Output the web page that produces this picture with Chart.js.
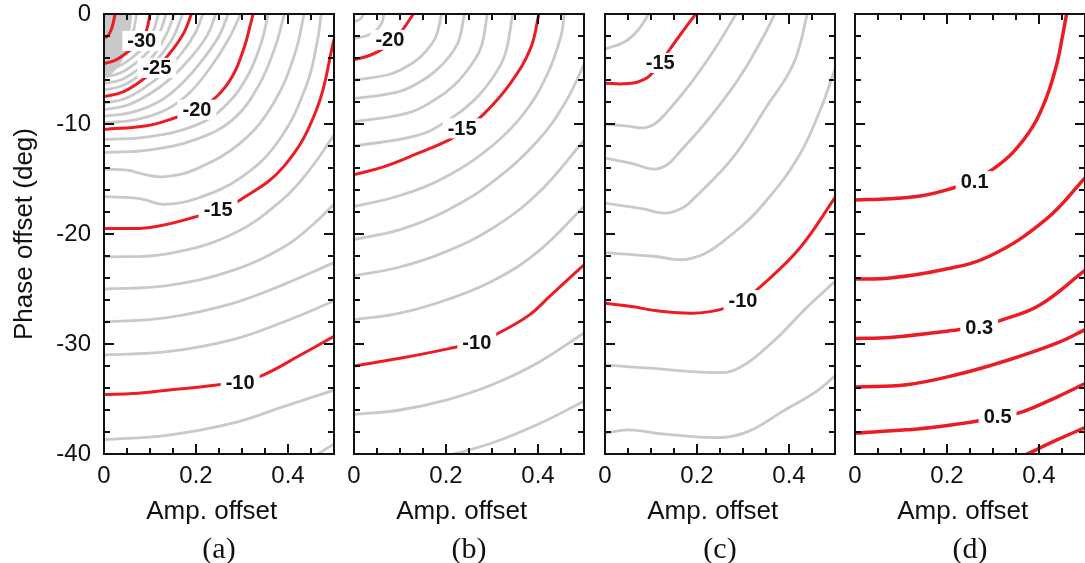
<!DOCTYPE html>
<html>
<head>
<meta charset="utf-8">
<script src="https://cdn.jsdelivr.net/npm/chart.js@4.4.1/dist/chart.umd.min.js"></script>
<style>
  html, body { margin: 0; padding: 0; background: #fff; }
  #fig { position: relative; width: 1085px; height: 563px; overflow: hidden; background: #fff; }
  #fig canvas { position: absolute; top: 0; }
  .tag { position: absolute; top: 531px; width: 120px; text-align: center;
         font-family: "Liberation Serif", "Times New Roman", serif; font-size: 30px; line-height: 34px; color: #111; }
</style>
</head>
<body>
<div id="fig">
  <canvas id="pa" width="344" height="563" style="left:0px"></canvas>
  <canvas id="pb" width="250" height="563" style="left:344px"></canvas>
  <canvas id="pc" width="250" height="563" style="left:595px"></canvas>
  <canvas id="pd" width="250" height="563" style="left:845px"></canvas>
  <div class="tag" style="left:159px">(a)</div>
  <div class="tag" style="left:409px">(b)</div>
  <div class="tag" style="left:660px">(c)</div>
  <div class="tag" style="left:910px">(d)</div>
</div>
<script>
// ---- axes ----
const xTickLabels = [0, 0.2, 0.4];
const yTickLabels = [0, -10, -20, -30, -40];
const xMinorTicks = [0, 0.05, 0.1, 0.15, 0.2, 0.25, 0.3, 0.35, 0.4, 0.45, 0.5];
const yMinorTicks = [0, -2, -4, -6, -8, -10, -12, -14, -16, -18, -20, -22, -24, -26, -28, -30, -32, -34, -36, -38, -40];

// ---- panel (a): contour levels, their [amp, phase] paths, labels ----
const levelsA = [-35, -34, -33, -32, -31, -30, -29, -28, -27, -26, -25, -24, -23, -22, -21, -20,
                 -19, -18, -17, -16, -15, -14, -13, -12, -11, -10, -9, -8];
const redA = [-35, -30, -25, -20, -15, -10];
const contoursA = [
  [[0,-2.2],[0.008,-2.0],[0.015,-1.5],[0.02,-0.8],[0.024,0]],
  [[0,-2.7],[0.012,-2.45],[0.022,-1.9],[0.029,-1.0],[0.033,0]],
  [[0,-3.2],[0.015,-2.9],[0.027,-2.3],[0.036,-1.3],[0.041,0]],
  [[0,-3.65],[0.02,-3.3],[0.034,-2.6],[0.045,-1.5],[0.05,0]],
  [[0,-4.1],[0.025,-3.8],[0.045,-3.1],[0.062,-1.8],[0.071,0]],
  [[0,-4.5],[0.025,-4.2],[0.05,-3.5],[0.082,-2.4],[0.093,-1.4],[0.1,0]],
  [[0,-5.1],[0.03,-4.8],[0.06,-4.0],[0.092,-2.75],[0.108,-1.5],[0.118,0]],
  [[0,-5.7],[0.033,-5.4],[0.066,-4.55],[0.101,-3.2],[0.122,-1.6],[0.135,0]],
  [[0,-6.3],[0.036,-6.0],[0.072,-5.1],[0.108,-3.75],[0.136,-1.8],[0.153,0]],
  [[0,-6.9],[0.038,-6.55],[0.076,-5.6],[0.111,-4.35],[0.148,-2.3],[0.171,0]],
  [[0,-7.5],[0.04,-7.1],[0.08,-6.1],[0.115,-4.9],[0.15,-3.2],[0.175,-1.6],[0.19,0]],
  [[0,-8.1],[0.045,-7.7],[0.09,-6.65],[0.13,-5.35],[0.17,-3.5],[0.198,-1.75],[0.215,0]],
  [[0,-8.7],[0.05,-8.3],[0.1,-7.25],[0.145,-5.85],[0.19,-3.9],[0.225,-1.9],[0.243,0]],
  [[0,-9.3],[0.06,-8.95],[0.12,-7.95],[0.165,-6.5],[0.21,-4.4],[0.25,-2.0],[0.27,0]],
  [[0,-9.9],[0.07,-9.6],[0.135,-8.7],[0.185,-7.2],[0.23,-4.95],[0.272,-2.2],[0.297,0]],
  [[0,-10.5],[0.093,-10.15],[0.15,-9.5],[0.2,-8.7],[0.245,-7.5],[0.28,-5.6],[0.305,-3.0],[0.318,-1.0],[0.324,0]],
  [[0,-11.4],[0.1,-11.15],[0.2,-10.1],[0.26,-8.5],[0.31,-5.8],[0.342,-2.6],[0.357,0]],
  [[0,-12.6],[0.1,-12.35],[0.2,-11.4],[0.28,-9.6],[0.335,-6.6],[0.372,-3.0],[0.392,0]],
  [[0,-14.1],[0.05,-14.2],[0.09,-14.6],[0.13,-14.8],[0.2,-14.1],[0.3,-11.6],[0.37,-8.0],[0.415,-3.6],[0.435,0]],
  [[0,-16.6],[0.08,-16.8],[0.13,-17.3],[0.2,-16.8],[0.3,-14.8],[0.38,-11.5],[0.44,-6.5],[0.465,-2.2],[0.472,0]],
  [[0,-19.5],[0.1,-19.4],[0.194,-18.5],[0.248,-17.7],[0.296,-16.9],[0.39,-13.9],[0.462,-8.7],[0.5,-2.3]],
  [[0,-22.1],[0.137,-21.8],[0.28,-20.0],[0.39,-16.8],[0.45,-14.0],[0.5,-11.0]],
  [[0,-25.0],[0.137,-24.7],[0.28,-23.3],[0.39,-21.2],[0.45,-19.3],[0.5,-17.3]],
  [[0,-28.0],[0.137,-27.6],[0.28,-26.3],[0.39,-24.6],[0.5,-22.6]],
  [[0,-31.0],[0.137,-30.7],[0.28,-29.6],[0.39,-28.0],[0.5,-26.1]],
  [[0,-34.6],[0.064,-34.5],[0.137,-34.2],[0.231,-33.8],[0.297,-33.4],[0.347,-32.8],[0.427,-31.0],[0.5,-29.3]],
  [[0,-38.7],[0.137,-38.3],[0.28,-37.2],[0.39,-35.7],[0.5,-34.2]],
  [[0.455,-40.3],[0.48,-39.6],[0.5,-39.1]]
];
// densely packed region in the top-left corner
const shadeA = [[0,-5.8],[0.02,-5.3],[0.04,-4.2],[0.05,-2.8],[0.058,-1.3],[0.062,0]];
const labelsA = [['-30',0.082,-2.45],['-25',0.115,-4.9],['-20',0.202,-8.7],['-15',0.248,-17.8],['-10',0.296,-33.5]];

// ---- panel (b) ----
const levelsB = [-22, -21, -20, -19, -18, -17, -16, -15, -14, -13, -12, -11, -10, -9, -8];
const redB = [-20, -15, -10];
const contoursB = [
  [[0,-0.7],[0.01,-0.55],[0.017,-0.3],[0.021,0]],
  [[0,-2.2],[0.026,-2.0],[0.039,-1.75],[0.049,-1.45],[0.057,-1.05],[0.062,-0.65],[0.065,0]],
  [[0,-4.15],[0.035,-3.75],[0.071,-2.95],[0.09,-2.2],[0.108,-1.3],[0.129,0]],
  [[0,-6.0],[0.076,-5.5],[0.114,-4.8],[0.143,-3.95],[0.165,-2.95],[0.18,-1.85],[0.19,0]],
  [[0,-7.7],[0.096,-7.08],[0.144,-6.16],[0.18,-5.08],[0.209,-3.77],[0.228,-2.39],[0.24,0]],
  [[0,-9.8],[0.116,-9.02],[0.174,-7.84],[0.218,-6.47],[0.252,-4.8],[0.276,-3.04],[0.29,0]],
  [[0,-12.0],[0.138,-11.04],[0.207,-9.6],[0.259,-7.92],[0.3,-5.88],[0.328,-3.72],[0.345,0]],
  [[0,-14.6],[0.064,-13.9],[0.137,-12.7],[0.209,-11.4],[0.24,-10.5],[0.282,-9.1],[0.34,-6.3],[0.384,-3.1],[0.402,0]],
  [[0,-17.5],[0.1,-16.5],[0.2,-14.8],[0.3,-12.0],[0.37,-9.0],[0.42,-5.5],[0.45,-2.0],[0.457,0]],
  [[0,-20.5],[0.1,-19.6],[0.2,-17.9],[0.3,-15.3],[0.4,-11.5],[0.46,-8.0],[0.5,-4.6]],
  [[0,-23.8],[0.1,-23.0],[0.2,-21.6],[0.3,-19.5],[0.4,-16.3],[0.5,-11.5]],
  [[0,-27.8],[0.1,-27.2],[0.2,-26.0],[0.3,-24.3],[0.4,-21.6],[0.5,-17.5]],
  [[0,-32.0],[0.1,-31.3],[0.209,-30.4],[0.267,-29.8],[0.31,-29.1],[0.38,-27.4],[0.427,-25.6],[0.5,-22.8]],
  [[0,-36.4],[0.1,-36.0],[0.2,-35.1],[0.3,-33.7],[0.4,-31.7],[0.5,-29.0]],
  [[0.2,-40.2],[0.3,-39.0],[0.4,-37.3],[0.5,-35.2]]
];
const labelsB = [['-20',0.078,-2.35],['-15',0.235,-10.4],['-10',0.267,-29.9]];

// ---- panel (c) ----
const levelsC = [-16, -15, -14, -13, -12, -11, -10, -9, -8];
const redC = [-15, -10];
const contoursC = [
  [[0,-3.2],[0.044,-2.5],[0.073,-1.4],[0.095,0]],
  [[0,-6.3],[0.04,-6.35],[0.07,-6.2],[0.095,-5.7],[0.117,-4.6],[0.153,-2.5],[0.197,0]],
  [[0,-10.0],[0.05,-10.2],[0.085,-10.35],[0.108,-10.0],[0.131,-9.1],[0.19,-6.1],[0.24,-3.1],[0.285,0]],
  [[0,-13.1],[0.06,-13.6],[0.105,-14.1],[0.135,-13.7],[0.161,-12.6],[0.226,-9.5],[0.292,-5.8],[0.345,-2.0],[0.369,0]],
  [[0,-17.2],[0.08,-17.7],[0.131,-18.1],[0.17,-17.6],[0.19,-16.9],[0.277,-13.1],[0.35,-8.5],[0.41,-4.5],[0.44,0]],
  [[0,-21.7],[0.1,-22.0],[0.19,-22.2],[0.277,-20.0],[0.35,-17.0],[0.423,-12.8],[0.47,-8.5],[0.5,-5.0]],
  [[0,-26.3],[0.058,-26.6],[0.117,-27.0],[0.19,-27.2],[0.248,-26.9],[0.3,-26.0],[0.343,-24.6],[0.423,-21.3],[0.5,-16.7]],
  [[0,-31.9],[0.095,-32.2],[0.24,-32.6],[0.29,-32.2],[0.365,-29.8],[0.438,-26.7],[0.5,-24.3]],
  [[0,-38.1],[0.051,-37.8],[0.131,-38.2],[0.255,-38.5],[0.314,-37.9],[0.387,-36.1],[0.46,-34.3],[0.5,-32.9]]
];
const labelsC = [['-15',0.12,-4.45],['-10',0.3,-26.0]];

// ---- panel (d) ----
const levelsD = [0.1, 0.2, 0.3, 0.4, 0.5, 0.6];
const redD = [0.1, 0.2, 0.3, 0.4, 0.5, 0.6];
const contoursD = [
  [[0,-16.9],[0.076,-16.8],[0.148,-16.5],[0.207,-15.9],[0.26,-15.1],[0.3,-14.1],[0.343,-12.6],[0.387,-10.2],[0.417,-7.5],[0.439,-4.5],[0.452,-1.8],[0.46,0]],
  [[0,-24.1],[0.076,-24.0],[0.185,-23.3],[0.293,-22.0],[0.417,-18.6],[0.5,-14.9]],
  [[0,-29.5],[0.076,-29.4],[0.224,-28.7],[0.27,-28.4],[0.32,-27.8],[0.4,-26.5],[0.5,-23.3]],
  [[0,-33.9],[0.112,-33.7],[0.22,-32.8],[0.33,-31.5],[0.44,-29.9],[0.5,-28.7]],
  [[0,-38.1],[0.112,-37.8],[0.185,-37.5],[0.31,-36.7],[0.362,-36.2],[0.44,-34.8],[0.5,-33.6]],
  [[0.37,-40.1],[0.44,-38.7],[0.5,-37.6]]
];
const labelsD = [['0.1',0.26,-15.2],['0.3',0.27,-28.5],['0.5',0.31,-36.6]];

// ---- styling ----
const FONT = '"Liberation Sans", Arial, Helvetica, sans-serif';
const RED = '#ec1c24';
const GRAY = '#c9c9c9';
const INK = '#111111';

const toPoints = arr => arr.map(p => ({ x: p[0], y: p[1] }));

function contourDatasets(levels, paths, redLevels, redWidth, grayWidth) {
  const reds = [], grays = [];
  levels.forEach((lv, i) => {
    const isRed = redLevels.includes(lv);
    const ds = {
      label: String(lv),
      data: toPoints(paths[i]),
      borderColor: isRed ? RED : GRAY,
      borderWidth: isRed ? redWidth : grayWidth,
      pointRadius: 0,
      tension: 0.4,
      fill: false,
      clip: 0,
      borderCapStyle: 'round',
      borderJoinStyle: 'round'
    };
    (isRed ? reds : grays).push(ds);
  });
  // first dataset is painted last, so red levels sit on top of the gray ones
  return reds.concat(grays);
}

// contour value labels on white boxes that interrupt the lines
const contourLabelPlugin = {
  id: 'contourLabels',
  afterDatasetsDraw(chart, args, opts) {
    const { ctx, scales: { x, y } } = chart;
    ctx.save();
    ctx.font = 'bold 20px ' + FONT;
    ctx.textAlign = 'center';
    ctx.textBaseline = 'middle';
    (opts.items || []).forEach(([text, vx, vy]) => {
      const px = x.getPixelForValue(vx);
      const py = y.getPixelForValue(vy);
      const w = ctx.measureText(text).width;
      ctx.fillStyle = '#ffffff';
      ctx.fillRect(px - w / 2 - 5, py - 10, w + 10, 20);
      ctx.fillStyle = INK;
      ctx.fillText(text, px, py + 1);
    });
    ctx.restore();
  }
};

// boxed frame with inward ticks on all four sides
const framePlugin = {
  id: 'frameTicks',
  afterDraw(chart) {
    const { ctx, chartArea: { left, right, top, bottom }, scales: { x, y } } = chart;
    ctx.save();
    ctx.strokeStyle = INK;
    ctx.lineWidth = 2;
    ctx.beginPath();
    xMinorTicks.forEach(v => {
      const px = Math.round(x.getPixelForValue(v));
      const len = xTickLabels.includes(v) ? 10 : 6;
      ctx.moveTo(px, bottom); ctx.lineTo(px, bottom - len);
      ctx.moveTo(px, top); ctx.lineTo(px, top + len);
    });
    yMinorTicks.forEach(v => {
      const py = Math.round(y.getPixelForValue(v));
      const len = yTickLabels.includes(v) ? 10 : 6;
      ctx.moveTo(left, py); ctx.lineTo(left + len, py);
      ctx.moveTo(right, py); ctx.lineTo(right - len, py);
    });
    ctx.stroke();
    ctx.strokeRect(left, top, right - left, bottom - top);
    ctx.restore();
  }
};

// keep the plot box fixed: no extra room reserved for overhanging tick labels
function noOverhang(s) {
  s.paddingLeft = 0; s.paddingRight = 0; s.paddingTop = 0; s.paddingBottom = 0;
}

function buildPanel(canvasId, datasets, labels, showY, yWidth) {
  return new Chart(document.getElementById(canvasId), {
    type: 'line',
    data: { datasets },
    options: {
      responsive: false,
      animation: false,
      devicePixelRatio: 1,
      events: [],
      layout: { autoPadding: false, padding: { left: 0, right: 10, top: 14, bottom: 0 } },
      plugins: {
        legend: { display: false },
        tooltip: { enabled: false },
        contourLabels: { items: labels }
      },
      scales: {
        x: {
          type: 'linear', min: 0, max: 0.5,
          grid: { display: false, drawTicks: false },
          border: { display: false },
          afterBuildTicks: s => { s.ticks = xTickLabels.map(v => ({ value: v })); },
          afterFit: s => { s.height = 109; noOverhang(s); },
          ticks: {
            autoSkip: false, maxRotation: 0, padding: 8, color: INK,
            font: { family: FONT, size: 24 },
            callback: v => (v === 0 ? '0' : v.toFixed(1))
          },
          title: {
            display: true, text: 'Amp. offset  ', color: INK,
            font: { family: FONT, size: 26, lineHeight: 1.2 },
            padding: { top: 0, bottom: 36 }
          }
        },
        y: {
          type: 'linear', min: -40, max: 0,
          grid: { display: false, drawTicks: false },
          border: { display: false },
          afterBuildTicks: s => { s.ticks = yTickLabels.map(v => ({ value: v })); },
          afterFit: s => { s.width = yWidth; noOverhang(s); },
          ticks: {
            display: showY, padding: 13, color: INK,
            font: { family: FONT, size: 24 },
            callback: v => String(v)
          },
          title: {
            display: showY, text: 'Phase offset (deg)', color: INK,
            font: { family: FONT, size: 26, lineHeight: 1.2 },
            padding: { top: 9, bottom: 0 }
          }
        }
      }
    },
    plugins: [contourLabelPlugin, framePlugin]
  });
}

const dsA = contourDatasets(levelsA, contoursA, redA, 3, 2.8);
dsA.push({
  label: 'shade',
  data: toPoints(shadeA),
  borderWidth: 0,
  borderColor: 'rgba(0,0,0,0)',
  backgroundColor: GRAY,
  pointRadius: 0,
  tension: 0.4,
  clip: 0,
  fill: 'end'
});

buildPanel('pa', dsA, labelsA, true, 104);
buildPanel('pb', contourDatasets(levelsB, contoursB, redB, 3, 2.8), labelsB, false, 10);
buildPanel('pc', contourDatasets(levelsC, contoursC, redC, 3, 2.8), labelsC, false, 10);
buildPanel('pd', contourDatasets(levelsD, contoursD, redD, 3.5, 3.5), labelsD, false, 10);
</script>
</body>
</html>
